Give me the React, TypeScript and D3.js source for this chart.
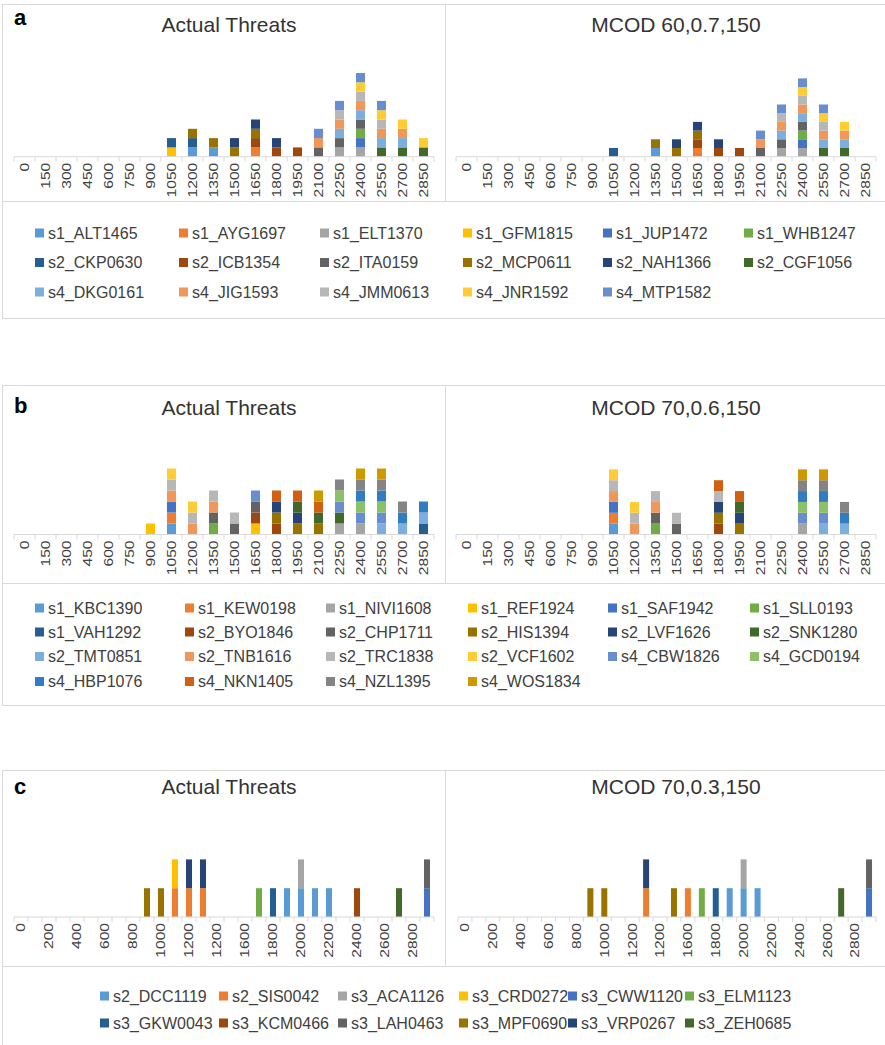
import React from 'react';
import * as d3 from 'd3';

// Excel "Office" series colours, in series order
const PALETTE = [
  '#5B9BD5', '#ED7D31', '#A5A5A5', '#FFC000', '#4472C4', '#70AD47',
  '#255E91', '#9E480E', '#636363', '#997300', '#264478', '#43682B',
  '#7CAFDD', '#F1975A', '#B7B7B7', '#FFCD33', '#698ED0', '#8CC168',
  '#327DC2', '#D26012', '#848484', '#CC9A00',
];

// ---- categories / tick labels ----
const catsAB = [0, 150, 300, 450, 600, 750, 900, 1050, 1200, 1350, 1500, 1650, 1800, 1950, 2100, 2250, 2400, 2550, 2700, 2850];
const labelsAB = ['0', '150', '300', '450', '600', '750', '900', '1050', '1200', '1350', '1500', '1650', '1800', '1950', '2100', '2250', '2400', '2550', '2700', '2850'];
const catsC = [0, 100, 200, 300, 400, 500, 600, 700, 800, 900, 1000, 1100, 1200, 1300, 1400, 1500, 1600, 1700, 1800, 1900, 2000, 2100, 2200, 2300, 2400, 2500, 2600, 2700, 2800, 2900];
const labelsC = ['0', '200', '400', '600', '800', '1000', '1200', '1200', '1600', '1800', '2000', '2200', '2400', '2600', '2800'];

// ---- panel a ----
const namesA = [
  's1_ALT1465', 's1_AYG1697', 's1_ELT1370', 's1_GFM1815', 's1_JUP1472', 's1_WHB1247',
  's2_CKP0630', 's2_ICB1354', 's2_ITA0159', 's2_MCP0611', 's2_NAH1366', 's2_CGF1056',
  's4_DKG0161', 's4_JIG1593', 's4_JMM0613', 's4_JNR1592', 's4_MTP1582',
];
// categories where each series has a threat (value 1)
const actualA = [
  [1200, 1350], [1650], [2250, 2400], [1050], [2400], [2400],
  [1050, 1200], [1650, 1800, 1950], [2100, 2250, 2400], [1200, 1350, 1500, 1650], [1500, 1650, 1800], [2550, 2700, 2850],
  [2250, 2400, 2550, 2700], [2100, 2250, 2400, 2550, 2700], [2250, 2400, 2550], [2400, 2550, 2700, 2850], [2100, 2250, 2400, 2550],
];
const mcodA = [
  [1350], [1650], [2250, 2400], [], [2400], [2400],
  [1050], [1650, 1800, 1950], [2100, 2250, 2400], [1350, 1500, 1650], [1500, 1650, 1800], [2550, 2700],
  [2250, 2400, 2550, 2700], [2100, 2250, 2400, 2550, 2700], [2250, 2400, 2550], [2400, 2550, 2700], [2100, 2250, 2400, 2550],
];

// ---- panel b ----
const namesB = [
  's1_KBC1390', 's1_KEW0198', 's1_NIVI1608', 's1_REF1924', 's1_SAF1942', 's1_SLL0193',
  's1_VAH1292', 's2_BYO1846', 's2_CHP1711', 's2_HIS1394', 's2_LVF1626', 's2_SNK1280',
  's2_TMT0851', 's2_TNB1616', 's2_TRC1838', 's2_VCF1602', 's4_CBW1826', 's4_GCD0194',
  's4_HBP1076', 's4_NKN1405', 's4_NZL1395', 's4_WOS1834',
];
const actualB = [
  [1050], [1050], [2250, 2400], [900, 1650], [1050], [1350],
  [2850], [1650, 1800], [1350, 1500, 1650], [1800, 1950, 2100], [1800, 1950], [1950, 2100, 2250],
  [2550, 2700, 2850], [1050, 1200, 1350], [1050, 1200, 1350, 1500], [1050, 1200], [1650, 2250, 2400, 2550], [2250, 2400, 2550],
  [2400, 2550, 2700, 2850], [1800, 1950, 2100], [2250, 2400, 2550, 2700], [2100, 2400, 2550],
];
const mcodB = [
  [1050], [1050], [2400], [], [1050], [1350],
  [], [1800], [1350, 1500], [1800, 1950], [1800, 1950], [1950],
  [2550, 2700], [1050, 1200, 1350], [1050, 1200, 1350, 1500, 1800], [1050, 1200], [2400, 2550], [2400, 2550],
  [2400, 2550, 2700], [1800, 1950], [2400, 2550, 2700], [2400, 2550],
];

// ---- panel c ----
const namesC = [
  's2_DCC1119', 's2_SIS0042', 's3_ACA1126', 's3_CRD0272', 's3_CWW1120', 's3_ELM1123',
  's3_GKW0043', 's3_KCM0466', 's3_LAH0463', 's3_MPF0690', 's3_VRP0267', 's3_ZEH0685',
];
const actualC = [
  [1900, 2000, 2100, 2200], [1100, 1200, 1300], [2000], [1100], [2900], [1700],
  [1800], [2400], [2900], [900, 1000], [1200, 1300], [2700],
];
const mcodC = [
  [1900, 2000, 2100], [1300, 1600], [2000], [], [2900], [1700],
  [1800], [], [2900], [900, 1000, 1500], [1300], [2700],
];

const FONT = '"Liberation Sans", Arial, sans-serif';
const BORDER = '#D9D9D9';

type ChartProps = {
  x0: number; x1: number; baseline: number; plotH: number; yMax: number;
  cats: number[]; labels: string[]; labelStep: number;
  names: string[]; hits: number[][];
};

function StackedChart({ x0, x1, baseline, plotH, yMax, cats, labels, labelStep, names, hits }: ChartProps) {
  const x = d3.scaleBand<number>().domain(cats).range([x0, x1]).paddingInner(0.57).paddingOuter(0.285);
  const y = d3.scaleLinear().domain([0, yMax]).range([baseline, baseline - plotH]);
  const rows = cats.map(c => {
    const r: any = { cat: c };
    names.forEach((n, i) => { r[n] = hits[i].includes(c) ? 1 : 0; });
    return r;
  });
  const layers = d3.stack<any>().keys(names)(rows);
  const step = x.step();
  const bw = x.bandwidth();

  return (
    <g>
      {layers.map((layer, i) => (
        <g key={names[i]} fill={PALETTE[i]}>
          {layer.filter(d => d[1] - d[0] > 0).map(d => (
            <rect key={d.data.cat} x={x(d.data.cat)} y={y(d[1])} width={bw} height={y(d[0]) - y(d[1])} />
          ))}
        </g>
      ))}
      <line x1={x0} x2={x1} y1={baseline} y2={baseline} stroke={BORDER} strokeWidth={1} />
      {d3.range(cats.length + 1).map(k => (
        <line key={k} x1={x0 + k * step} x2={x0 + k * step} y1={baseline} y2={baseline + 5} stroke={BORDER} strokeWidth={1} />
      ))}
      {labels.map((lab, j) => {
        const c = cats[j * labelStep];
        const cx = (x(c) as number) + bw / 2;
        // labels in the source are stretched along their length
        return (
          <text key={j} transform={`translate(${cx},${baseline + 6}) rotate(-90) scale(1.25,1)`} textAnchor="end" dy="0.35em"
            fontFamily={FONT} fontSize={12.5} fill="#404040">{lab}</text>
        );
      })}
    </g>
  );
}

type LegendProps = { names: string[]; colX: number[]; rowY: number[] };

function Legend({ names, colX, rowY }: LegendProps) {
  const n = colX.length;
  return (
    <g>
      {names.map((name, i) => {
        const cx = colX[i % n];
        const cy = rowY[Math.floor(i / n)];
        return (
          <g key={name}>
            <rect x={cx} y={cy - 4.5} width={9} height={9} fill={PALETTE[i]} />
            <text x={cx + 13} y={cy} dy="0.35em" fontFamily={FONT} fontSize={16} fill="#404040">{name}</text>
          </g>
        );
      })}
    </g>
  );
}

type PanelProps = {
  letter: string; top: number; chartH: number; legendH: number; titleR: string;
  titleY: number; letterY: number;
  baseline: number; plotHL: number; plotHR: number; yMax: number;
  cats: number[]; labels: string[]; labelStep: number; rightStart: number;
  names: string[]; actual: number[][]; mcod: number[][];
  colX: number[]; rowY: number[];
};

function Panel(p: PanelProps) {
  return (
    <g>
      <rect x={2.5} y={p.top + 0.5} width={443} height={p.chartH} fill="#fff" stroke={BORDER} />
      <rect x={445.5} y={p.top + 0.5} width={445} height={p.chartH} fill="#fff" stroke={BORDER} />
      <rect x={2.5} y={p.top + p.chartH + 0.5} width={888} height={p.legendH} fill="#fff" stroke={BORDER} />
      <text x={14} y={p.letterY} fontFamily={FONT} fontSize={22} fontWeight="bold" fill="#000">{p.letter}</text>
      <text x={229} y={p.titleY} textAnchor="middle" fontFamily={FONT} fontSize={21} fill="#333">Actual Threats</text>
      <text x={676} y={p.titleY} textAnchor="middle" fontFamily={FONT} fontSize={21} fill="#333">{p.titleR}</text>
      <StackedChart x0={14} x1={434} baseline={p.baseline} plotH={p.plotHL} yMax={p.yMax}
        cats={p.cats} labels={p.labels} labelStep={p.labelStep} names={p.names} hits={p.actual} />
      <StackedChart x0={p.rightStart} x1={876} baseline={p.baseline} plotH={p.plotHR} yMax={p.yMax}
        cats={p.cats} labels={p.labels} labelStep={p.labelStep} names={p.names} hits={p.mcod} />
      <Legend names={p.names} colX={p.colX} rowY={p.rowY} />
    </g>
  );
}

export default function App() {
  return (
    <div style={{ position: 'absolute', left: 0, top: 0, width: 885, height: 1045, background: '#fff' }}>
      <svg width={885} height={1045} style={{ display: 'block' }}>
        <rect width={885} height={1045} fill="#fff" />
        <Panel letter="a" top={4} chartH={197} legendH={117} titleR="MCOD 60,0.7,150"
          titleY={32} letterY={25}
          baseline={156.7} plotHL={93} plotHR={87} yMax={10}
          cats={catsAB} labels={labelsAB} labelStep={1} rightStart={456}
          names={namesA} actual={actualA} mcod={mcodA}
          colX={[35, 179, 320, 463, 603, 744]} rowY={[233, 262.5, 292]} />
        <Panel letter="b" top={385} chartH={198} legendH={122} titleR="MCOD 70,0.6,150"
          titleY={415} letterY={413}
          baseline={534.5} plotHL={77} plotHR={76} yMax={7}
          cats={catsAB} labels={labelsAB} labelStep={1} rightStart={456}
          names={namesB} actual={actualB} mcod={mcodB}
          colX={[35, 185, 326, 468, 608, 750]} rowY={[608, 632, 656.5, 681.5]} />
        <Panel letter="c" top={770} chartH={196} legendH={90} titleR="MCOD 70,0.3,150"
          titleY={794} letterY={794}
          baseline={917} plotHL={72} plotHR={72} yMax={2.5}
          cats={catsC} labels={labelsC} labelStep={2} rightStart={458}
          names={namesC} actual={actualC} mcod={mcodC}
          colX={[100, 219, 338, 459, 568, 685]} rowY={[996, 1023]} />
      </svg>
    </div>
  );
}
